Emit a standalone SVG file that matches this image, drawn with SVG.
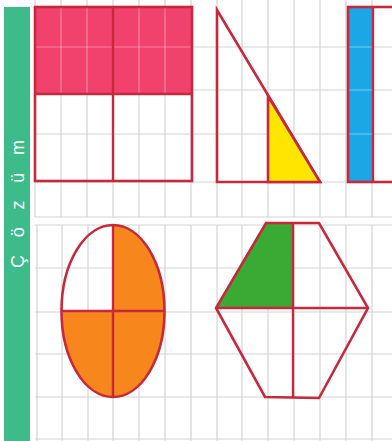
<svg xmlns="http://www.w3.org/2000/svg" width="392" height="441" viewBox="0 0 392 441">
<style>
.grid line{stroke:#d4d4d4;stroke-width:1.2}
.shape{stroke:#c8283c;stroke-width:2.6;stroke-linejoin:miter}
.div{stroke:#c8283c;stroke-width:2.4;fill:none}
.inner line{stroke:#ffffff;stroke-opacity:0.35;stroke-width:1.2}
.lbl{font-family:"Liberation Sans",Arial,sans-serif;font-size:18px;fill:#ffffff}
</style>
<rect width="392" height="441" fill="#ffffff"/>
<g id="sidebar">
<rect x="4" y="7" width="26" height="434" fill="#3dbb8b"/>
<text class="lbl" transform="translate(24,204) rotate(-90)" text-anchor="middle" textLength="128" lengthAdjust="spacing">Çözüm</text>
</g>
<g class="grid" id="grid-top">
<line x1="35" y1="0" x2="35" y2="217"/><line x1="61" y1="0" x2="61" y2="217"/><line x1="87" y1="0" x2="87" y2="217"/><line x1="113" y1="0" x2="113" y2="217"/><line x1="139" y1="0" x2="139" y2="217"/><line x1="165" y1="0" x2="165" y2="217"/><line x1="191" y1="0" x2="191" y2="217"/><line x1="217" y1="0" x2="217" y2="217"/><line x1="242" y1="0" x2="242" y2="217"/><line x1="268" y1="0" x2="268" y2="217"/><line x1="294" y1="0" x2="294" y2="217"/><line x1="320" y1="0" x2="320" y2="217"/><line x1="346" y1="0" x2="346" y2="217"/><line x1="372" y1="0" x2="372" y2="217"/>
<line x1="35" y1="47" x2="392" y2="47"/><line x1="35" y1="90" x2="392" y2="90"/><line x1="35" y1="134" x2="392" y2="134"/><line x1="35" y1="182" x2="392" y2="182"/><line x1="35" y1="217" x2="392" y2="217"/>
</g>
<g class="grid" id="grid-bottom">
<line x1="37" y1="225" x2="37" y2="441"/><line x1="62" y1="225" x2="62" y2="441"/><line x1="88" y1="225" x2="88" y2="441"/><line x1="113" y1="225" x2="113" y2="441"/><line x1="139" y1="225" x2="139" y2="441"/><line x1="165" y1="225" x2="165" y2="441"/><line x1="191" y1="225" x2="191" y2="441"/><line x1="217" y1="225" x2="217" y2="441"/><line x1="242" y1="225" x2="242" y2="441"/><line x1="268" y1="225" x2="268" y2="441"/><line x1="294" y1="225" x2="294" y2="441"/><line x1="320" y1="225" x2="320" y2="441"/><line x1="346" y1="225" x2="346" y2="441"/><line x1="372" y1="225" x2="372" y2="441"/>
<line x1="35" y1="225" x2="392" y2="225"/><line x1="35" y1="268" x2="392" y2="268"/><line x1="35" y1="312" x2="392" y2="312"/><line x1="35" y1="354" x2="392" y2="354"/><line x1="35" y1="397" x2="392" y2="397"/><line x1="35" y1="439" x2="392" y2="439"/>
</g>
<g id="rectangle">
<rect x="35" y="7" width="157" height="87" fill="#f0426c"/>
<g class="inner"><line x1="61" y1="8" x2="61" y2="93"/><line x1="87" y1="8" x2="87" y2="93"/><line x1="139" y1="8" x2="139" y2="93"/><line x1="165" y1="8" x2="165" y2="93"/><line x1="36" y1="47" x2="191" y2="47"/></g>
<rect class="shape" x="35" y="7" width="157" height="174" fill="none"/>
<line class="div" x1="113" y1="7" x2="113" y2="181"/>
<line class="div" x1="35" y1="94" x2="192" y2="94"/>
</g>
<g id="triangle">
<polygon class="shape" points="217,10 217,182 320,182" fill="none"/>
<polygon class="shape" points="268,96 268,182 320,182" fill="#ffe600"/>
</g>
<g id="blue-rect">
<rect x="348" y="7" width="25" height="175" fill="#1ba6e6"/>
<g class="inner"><line x1="349" y1="47" x2="372" y2="47"/><line x1="349" y1="90" x2="372" y2="90"/><line x1="349" y1="134" x2="372" y2="134"/></g>
<rect class="shape" x="348" y="7" width="60" height="175" fill="none"/>
<line class="div" x1="373" y1="7" x2="373" y2="182"/>
</g>
<g id="ellipse">
<path d="M113,311 V225 A51.5,86 0 0 1 164.5,311 Z" fill="#f7861c"/>
<path d="M61.5,311 H164.5 A51.5,86 0 0 1 61.5,311 Z" fill="#f7861c"/>
<ellipse class="shape" cx="113" cy="311" rx="51.5" ry="86" fill="none"/>
<line class="div" x1="113" y1="225" x2="113" y2="397"/>
<line class="div" x1="61.5" y1="311" x2="164.5" y2="311"/>
</g>
<g id="hexagon">
<polygon points="216,308 266,223 293,223 293,308" fill="#3aaa35"/>
<polygon class="shape" points="266,223 319,223 368,308 319,398 265,397 216,308" fill="none"/>
<line class="div" x1="293" y1="223" x2="293" y2="398"/>
<line class="div" x1="216" y1="308" x2="368" y2="308"/>
</g>
</svg>
